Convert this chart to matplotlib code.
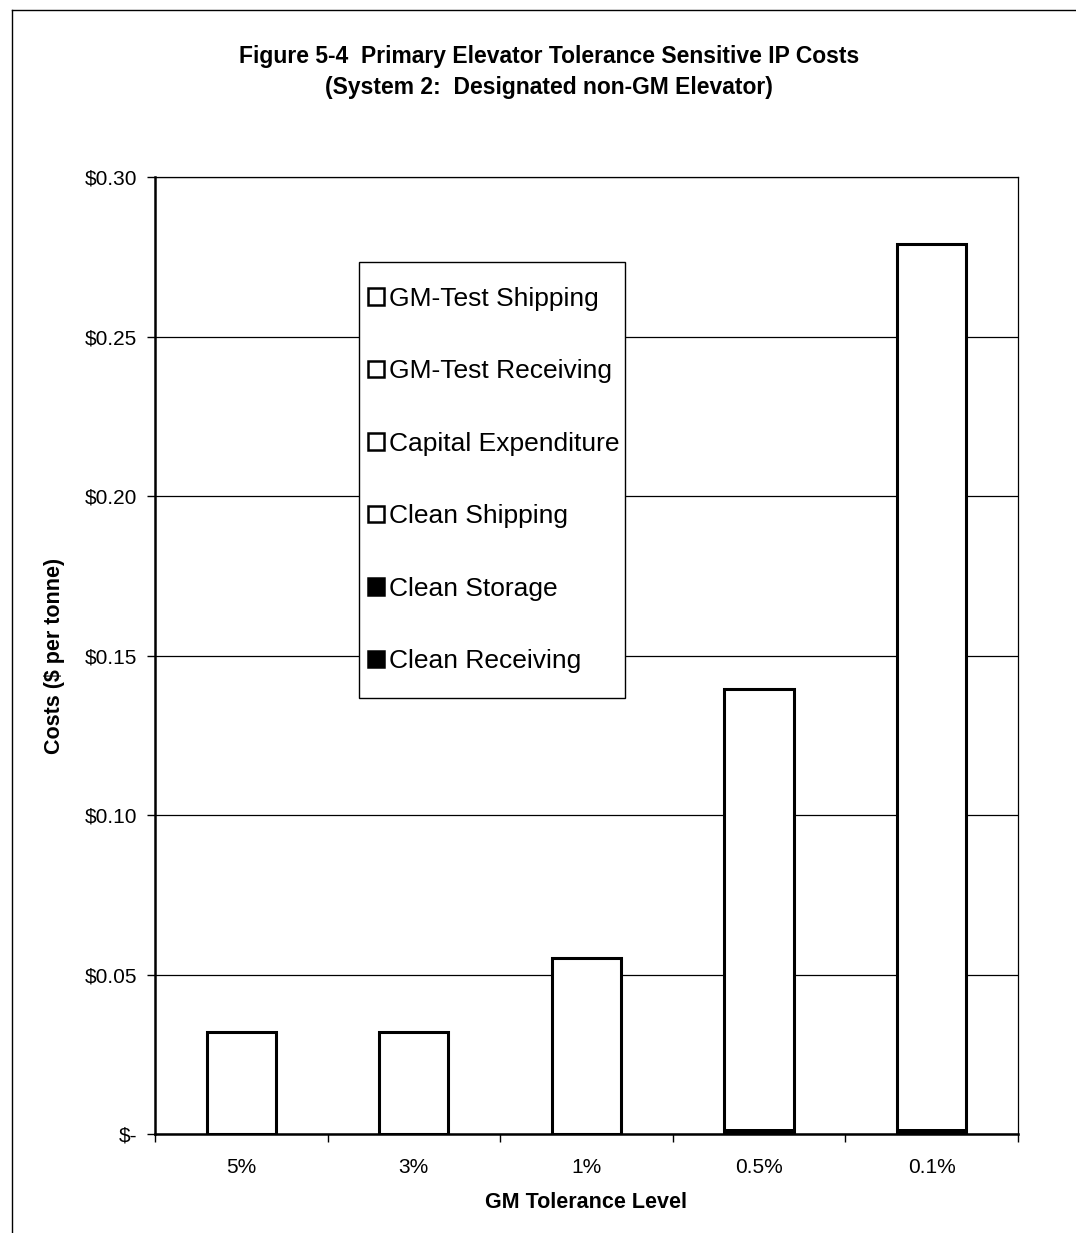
import numpy as np
import matplotlib.pyplot as plt
from matplotlib.patches import Patch, Rectangle
from matplotlib.lines import Line2D

plt.rcParams['font.family'] = ['Liberation Sans', 'DejaVu Sans']
plt.rcParams['text.parse_math'] = False

levels = ['5%', '3%', '1%', '0.5%', '0.1%']
clean_receiving = [0.0, 0.0, 0.0, 0.0008, 0.0008]
clean_storage = [0.0, 0.0, 0.0, 0.0007, 0.0007]
clean_shipping = [0.0, 0.0, 0.0, 0.0, 0.0]
capital_expenditure = [0.0, 0.0, 0.0, 0.0, 0.0]
gm_test_receiving = [0.032, 0.032, 0.0552, 0.1380, 0.2775]
gm_test_shipping = [0.0, 0.0, 0.0, 0.0, 0.0]

series = [
    ('Clean Receiving', clean_receiving, 'black'),
    ('Clean Storage', clean_storage, 'black'),
    ('Clean Shipping', clean_shipping, 'white'),
    ('Capital Expenditure', capital_expenditure, 'white'),
    ('GM-Test Receiving', gm_test_receiving, 'white'),
    ('GM-Test Shipping', gm_test_shipping, 'white'),
]

fig = plt.figure(figsize=(10.76, 12.33), dpi=100)
ax = fig.add_axes([0.144, 0.0803, 0.802, 0.7761])

x = np.arange(len(levels))
w = 0.4
bottom = np.zeros(len(levels))
for name, vals, col in series:
    vals = np.array(vals)
    ax.bar(x, vals, w, bottom=bottom, color=col, linewidth=0, zorder=3)
    bottom += vals
# outline of each stacked column
ax.bar(x, bottom, w, fill=False, edgecolor='black', linewidth=2.2, zorder=4)

ax.set_xlim(-0.5, len(levels) - 0.5)
ax.set_ylim(0, 0.30)
yt = np.arange(0, 0.301, 0.05)
ax.set_yticks(yt)
ax.set_yticklabels(['$-'] + ['${:.2f}'.format(v) for v in yt[1:]])
ax.yaxis.grid(True, color='black', linewidth=0.9, zorder=0)
ax.set_xticks(x)
ax.set_xticklabels(levels)
ax.set_xticks(np.arange(-0.5, len(levels), 1), minor=True)
ax.tick_params(axis='x', which='major', length=0, pad=17, labelsize=15)
ax.tick_params(axis='x', which='minor', length=6, width=1, direction='out')
ax.tick_params(axis='y', length=6, width=1, direction='out', pad=7, labelsize=15)

for s in ['left', 'bottom']:
    ax.spines[s].set_linewidth(1.8)
for s in ['top', 'right']:
    ax.spines[s].set_linewidth(0.9)

ax.set_xlabel('GM Tolerance Level', fontsize=15.5, fontweight='bold', labelpad=11)
ax.set_ylabel('Costs ($ per tonne)', fontsize=15.5, fontweight='bold', labelpad=14)

# legend box drawn separately so the inner spacing can differ per side
ax.add_patch(Rectangle((0.236, 0.4556), 0.3083, 0.4556, transform=ax.transAxes,
                       facecolor='white', edgecolor='black', linewidth=1.0,
                       zorder=5))
handles = [Patch(facecolor=col, edgecolor='black', linewidth=1.8, label=name)
           for name, vals, col in series][::-1]
leg = ax.legend(handles=handles, loc='center left', bbox_to_anchor=(0.2468, 0.6834),
                frameon=False, fontsize=19, handlelength=0.6, handleheight=0.6,
                handletextpad=0.2, labelspacing=1.84, borderpad=0,
                borderaxespad=0)
leg.set_zorder(6)

fig.text(0.51, 0.954, 'Figure 5-4  Primary Elevator Tolerance Sensitive IP Costs',
         ha='center', va='center', fontsize=16.5, fontweight='bold')
fig.text(0.51, 0.929, '(System 2:  Designated non-GM Elevator)',
         ha='center', va='center', fontsize=16.5, fontweight='bold')

# page frame
fig.add_artist(Line2D([0.011, 0.011], [0.0, 0.992], color='black', linewidth=1.0))
fig.add_artist(Line2D([0.011, 1.0], [0.992, 0.992], color='black', linewidth=1.0))

fig.savefig('out.png', dpi=100)
